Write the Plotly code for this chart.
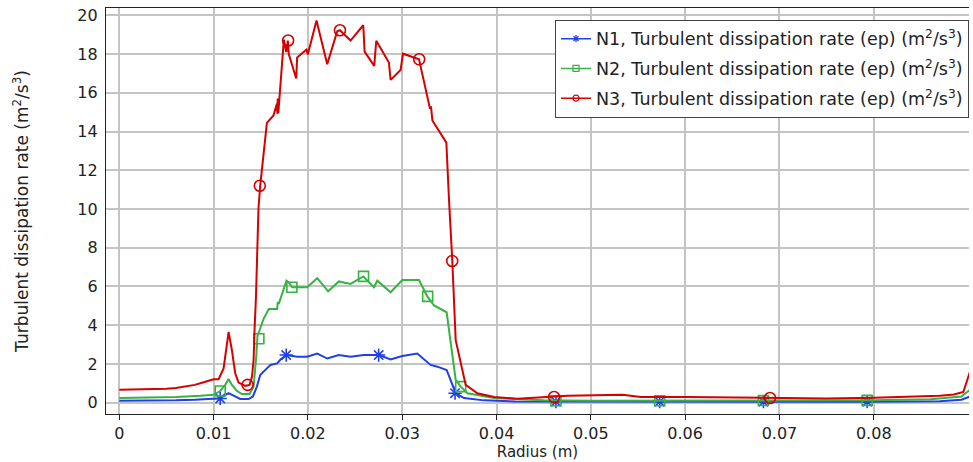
import plotly.graph_objects as go

# ---------------- data ----------------
n1_x = [0, 0.003, 0.006, 0.008, 0.0095, 0.0104, 0.0109, 0.01159, 0.01212, 0.01282, 0.0137, 0.01417,
        0.01459, 0.01494, 0.01565, 0.01603, 0.01674, 0.01709, 0.01773, 0.01886, 0.01992, 0.02099,
        0.02205, 0.02328, 0.02452, 0.02594, 0.02753, 0.02877, 0.03001, 0.0316, 0.03301, 0.03373,
        0.03471, 0.03514, 0.03567, 0.03655, 0.03868, 0.042, 0.05, 0.06, 0.07, 0.08, 0.087, 0.0893, 0.0902]
n1_y = [0.1, 0.1, 0.12, 0.15, 0.18, 0.22, 0.3, 0.49, 0.36, 0.19, 0.19, 0.32,
        0.83, 1.43, 1.77, 1.95, 2.03, 2.23, 2.46, 2.37, 2.37, 2.54,
        2.28, 2.46, 2.37, 2.46, 2.46, 2.23, 2.41, 2.54, 1.95, 1.86,
        1.69, 1.18, 0.49, 0.24, 0.12, 0.06, 0.05, 0.05, 0.05, 0.05, 0.07, 0.15, 0.32]

n2_x = [0, 0.003, 0.006, 0.0086, 0.01, 0.0107, 0.01123, 0.01159, 0.01194, 0.01247, 0.013, 0.01381,
        0.01424, 0.01452, 0.01466, 0.01487, 0.0153, 0.01585, 0.01674, 0.0168, 0.01691, 0.01773,
        0.01797, 0.01833, 0.01992, 0.02099, 0.02215, 0.02328, 0.02452, 0.02587, 0.027, 0.02736,
        0.02877, 0.03001, 0.03178, 0.03266, 0.03337, 0.03471, 0.03514, 0.03567, 0.0362, 0.03691,
        0.03974, 0.045, 0.05, 0.06, 0.07, 0.08, 0.086, 0.0893, 0.0902]
n2_y = [0.24, 0.26, 0.3, 0.36, 0.41, 0.6, 0.92, 1.22, 0.92, 0.61, 0.45, 0.45,
        0.83, 2.37, 3.48, 3.74, 4.33, 4.84, 4.84, 5.2, 5.1, 6.3,
        6.21, 5.96, 5.96, 6.43, 5.75, 6.26, 6.13, 6.52, 5.96, 6.3,
        5.7, 6.33, 6.33, 5.49, 5.02, 4.67, 3.05, 1.18, 0.83, 0.49,
        0.24, 0.12, 0.1, 0.1, 0.11, 0.13, 0.18, 0.32, 0.67]

n3_x = [0, 0.002, 0.004, 0.005, 0.006, 0.007, 0.008, 0.0086, 0.0093, 0.01, 0.01053, 0.01106,
        0.01159, 0.01194, 0.01229, 0.01265, 0.01335, 0.01381, 0.01407, 0.01424, 0.01434, 0.01449,
        0.01476, 0.01494, 0.01565, 0.01635, 0.01671, 0.01676, 0.0168, 0.01686, 0.01745, 0.0177,
        0.01787, 0.01797, 0.01876, 0.01886, 0.01985, 0.01999, 0.02091, 0.02205, 0.02311, 0.02339,
        0.02452, 0.02587, 0.02601, 0.02703, 0.02725, 0.02859, 0.02877, 0.02983, 0.03008, 0.03178,
        0.03295, 0.03305, 0.0332, 0.03468, 0.03496, 0.03531, 0.03567, 0.03673, 0.03797, 0.03974,
        0.04222, 0.0461, 0.0475, 0.05336, 0.0553, 0.06, 0.065, 0.07, 0.075, 0.08, 0.084, 0.087,
        0.0885, 0.0895, 0.0902]
n3_y = [0.67, 0.68, 0.7, 0.72, 0.76, 0.83, 0.92, 1.0, 1.12, 1.21, 1.21, 1.77,
        3.65, 2.71, 1.52, 1.04, 0.87, 0.92, 1.35, 2.2, 3.74, 5.44,
        10.05, 11.2, 14.45, 14.83, 15.43, 14.92, 15.7, 14.95, 18.75, 18.1,
        18.7, 18.0, 16.74, 17.82, 18.24, 17.98, 19.74, 17.48, 19.18, 19.23,
        18.7, 19.49, 18.13, 17.39, 18.69, 17.56, 16.67, 17.18, 18.02, 17.73,
        15.17, 15.3, 14.57, 13.43, 10.5, 7.32, 3.23, 0.92, 0.49, 0.29,
        0.2, 0.29, 0.36, 0.41, 0.3, 0.3, 0.27, 0.24, 0.22, 0.25, 0.3, 0.36,
        0.42, 0.55, 1.6]

# marker positions
n1_mx = [0.0107, 0.0177, 0.0275, 0.0356, 0.0463, 0.0573, 0.0683, 0.0793]
n1_my = [0.22, 2.46, 2.46, 0.49, 0.05, 0.05, 0.05, 0.05]
n2_mx = [0.0107, 0.0148, 0.0183, 0.0259, 0.0327, 0.0362, 0.0463, 0.0573, 0.0683, 0.0793]
n2_my = [0.6, 3.3, 5.96, 6.52, 5.49, 0.83, 0.1, 0.1, 0.11, 0.12]
n3_mx = [0.0136, 0.0149, 0.0179, 0.0234, 0.0318, 0.0353, 0.0461, 0.069]
n3_my = [0.92, 11.2, 18.7, 19.23, 17.73, 7.32, 0.29, 0.24]

names = ["N1, Turbulent dissipation rate (ep) (m<sup>2</sup>/s<sup>3</sup>)",
         "N2, Turbulent dissipation rate (ep) (m<sup>2</sup>/s<sup>3</sup>)",
         "N3, Turbulent dissipation rate (ep) (m<sup>2</sup>/s<sup>3</sup>)"]
colors = ["#1f3fe8", "#36b343", "#d50000"]
symbols = ["asterisk-open", "square-open", "circle-open"]
msizes = [11, 10, 11]

x_ticks = [0, 0.01, 0.02, 0.03, 0.04, 0.05, 0.06, 0.07, 0.08]
y_ticks = [0, 2, 4, 6, 8, 10, 12, 14, 16, 18, 20]

FONT = "DejaVu Sans"
X_RANGE = [-0.00141, 0.0901]

fig = go.Figure()
series = [(n1_x, n1_y, n1_mx, n1_my), (n2_x, n2_y, n2_mx, n2_my), (n3_x, n3_y, n3_mx, n3_my)]
for i, (sx, sy, mx, my) in enumerate(series):
    fig.add_trace(go.Scatter(x=sx, y=sy, mode="lines", line=dict(color=colors[i], width=2),
                             showlegend=False, hoverinfo="skip"))
    fig.add_trace(go.Scatter(x=mx, y=my, mode="markers", showlegend=False,
                             marker=dict(symbol=symbols[i], size=msizes[i], color=colors[i],
                                         line=dict(width=1.6, color=colors[i]))))
for i in range(3):
    fig.add_trace(go.Scatter(x=[None], y=[None], mode="lines+markers", name=names[i],
                             legendgroup=f"g{i}",
                             line=dict(color=colors[i], width=1.5),
                             marker=dict(symbol=symbols[i], size=6, color=colors[i],
                                         line=dict(width=1.2, color=colors[i]))))

fig.update_layout(
    width=973, height=462,
    margin=dict(l=106, r=4, t=8, b=44),
    paper_bgcolor="white", plot_bgcolor="white",
    font=dict(family=FONT, size=16, color="#222"),
    xaxis=dict(range=X_RANGE, tickvals=x_ticks, ticktext=[f"{v:g}" for v in x_ticks],
               showgrid=True, gridcolor="#c4c4c4", gridwidth=1.5, zeroline=False,
               showline=True, linecolor="#222", linewidth=1.2, mirror=True,
               ticks="outside", ticklen=5, tickcolor="#222",
               tickfont=dict(family=FONT, size=16, color="#222"),
               title=dict(text="Radius (m)", font=dict(family=FONT, size=15, color="#222"), standoff=4)),
    xaxis2=dict(range=X_RANGE, overlaying="x", side="top", tickvals=x_ticks,
                showticklabels=False, showgrid=False, zeroline=False,
                ticks="inside", ticklen=5, tickcolor="#222", showline=True,
                linecolor="#222", linewidth=1.2),
    yaxis=dict(range=[-0.584, 20.38], tickvals=y_ticks,
               showgrid=True, gridcolor="#c4c4c4", gridwidth=1.5, zeroline=False,
               showline=True, linecolor="#222", linewidth=1.2,
               ticks="", ticklabelstandoff=4,
               tickfont=dict(family=FONT, size=16, color="#222"),
               title=dict(text="Turbulent dissipation rate (m<sup>2</sup>/s<sup>3</sup>)",
                          font=dict(family=FONT, size=17, color="#222"), standoff=44)),
    legend=dict(x=1, xanchor="right", y=0.971, yanchor="top",
                bgcolor="white", bordercolor="#444", borderwidth=1,
                tracegroupgap=4,
                font=dict(family=FONT, size=17.5, color="#222")),
)

fig.write_html("out.html")
